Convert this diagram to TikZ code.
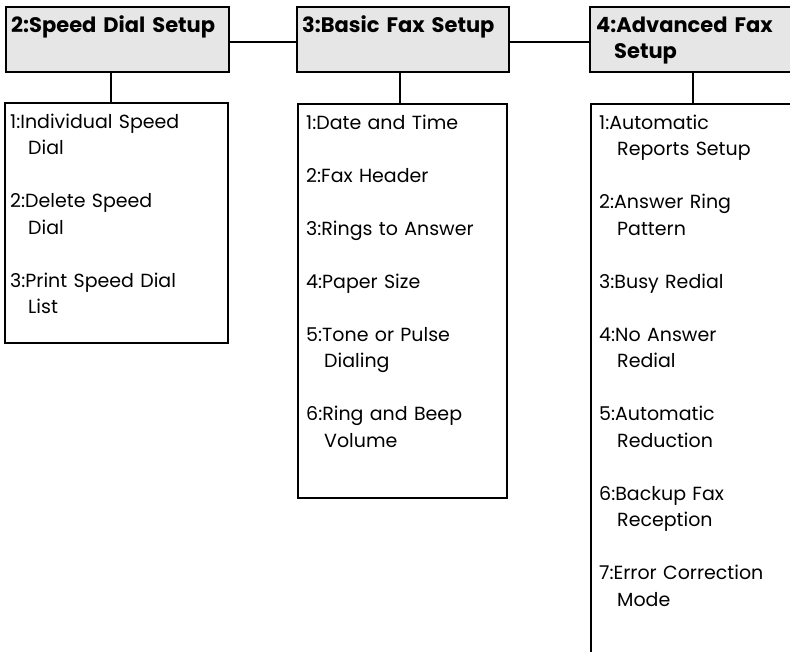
\documentclass[tikz,border=0pt]{standalone}
\usepackage{fontspec}
\setmainfont{Poppins}
\usepackage{xcolor}
\definecolor{hdrgray}{RGB}{230,230,230}
\usepackage{tikz}
\usetikzlibrary{positioning}
\newcommand{\wrapind}{\hspace*{18pt}}

\begin{document}
\begin{tikzpicture}[x=1pt, y=-1pt,
  hdrbox/.style={draw, line width=2pt, fill=hdrgray, anchor=north west, minimum height=65pt, inner sep=0pt},
  menubox/.style={draw, line width=2pt, anchor=north west, inner sep=0pt},
  hdrtext/.style={anchor=base west, inner sep=0pt, text width=260pt, align=left, font=\fontsize{21}{26.5}\selectfont\bfseries},
  menutext/.style={anchor=base west, inner sep=0pt, text width=260pt, align=left, font=\fontsize{19}{26.5}\selectfont},
  link/.style={line width=2pt}]
  \useasboundingbox (0,0) rectangle (790,651);
  \clip (0,0) rectangle (790,651);

  % Header boxes
  \node[hdrbox, minimum width=223pt] (speed) at (5,6) {};
  \node[hdrbox, minimum width=212pt] (basic) at (296,6) {};
  \node[hdrbox, minimum width=206pt] (adv)   at (589,6) {};
  \node[hdrtext] (speedlbl) at (11,32)  {2:Speed Dial Setup};
  \node[hdrtext] (basiclbl) at (302,32) {3:Basic Fax Setup};
  \node[hdrtext] (advlbl)   at (596,32) {4:Advanced Fax\\\wrapind Setup};

  % Menu boxes
  \node[menubox, minimum width=223pt, minimum height=240pt] (speedmenu) at (4,102) {};
  \node[menubox, minimum width=209pt, minimum height=394pt] (basicmenu) at (297,103) {};
  \node[menubox, minimum width=220pt, minimum height=600pt] (advmenu)   at (590,103) {};

  % --- Menu entries ---
  \node[menutext] (speeditems) at (10,128) {1:Individual Speed\\\wrapind Dial\\[26.5pt]
    2:Delete Speed\\\wrapind Dial\\[26.5pt]
    3:Print Speed Dial\\\wrapind List};
  \node[menutext] (basicitems) at (306,129) {1:Date and Time\\[26.5pt]
    2:Fax Header\\[26.5pt]
    3:Rings to Answer\\[26.5pt]
    4:Paper Size\\[26.5pt]
    5:Tone or Pulse\\\wrapind Dialing\\[26.5pt]
    6:Ring and Beep\\\wrapind Volume};
  \node[menutext] (advitems) at (599,129) {1:Automatic\\\wrapind Reports Setup\\[26.5pt]
    2:Answer Ring\\\wrapind Pattern\\[26.5pt]
    3:Busy Redial\\[26.5pt]
    4:No Answer\\\wrapind Redial\\[26.5pt]
    5:Automatic\\\wrapind Reduction\\[26.5pt]
    6:Backup Fax\\\wrapind Reception\\[26.5pt]
    7:Error Correction\\\wrapind Mode};

  % Connectors
  \draw[link] ([yshift=-2.5pt]speed.east) -- ([yshift=-2.5pt]basic.west);
  \draw[link] ([yshift=-2.5pt]basic.east) -- ([yshift=-2.5pt]adv.west);
  \draw[link] ([xshift=-6.5pt]speed.south) -- ([xshift=-6.5pt]speed.south |- speedmenu.north);
  \draw[link] ([xshift=-3pt]basic.south) -- ([xshift=-3pt]basic.south |- basicmenu.north);
  \draw[link] (adv.south) -- (adv.south |- advmenu.north);
\end{tikzpicture}
\end{document}
